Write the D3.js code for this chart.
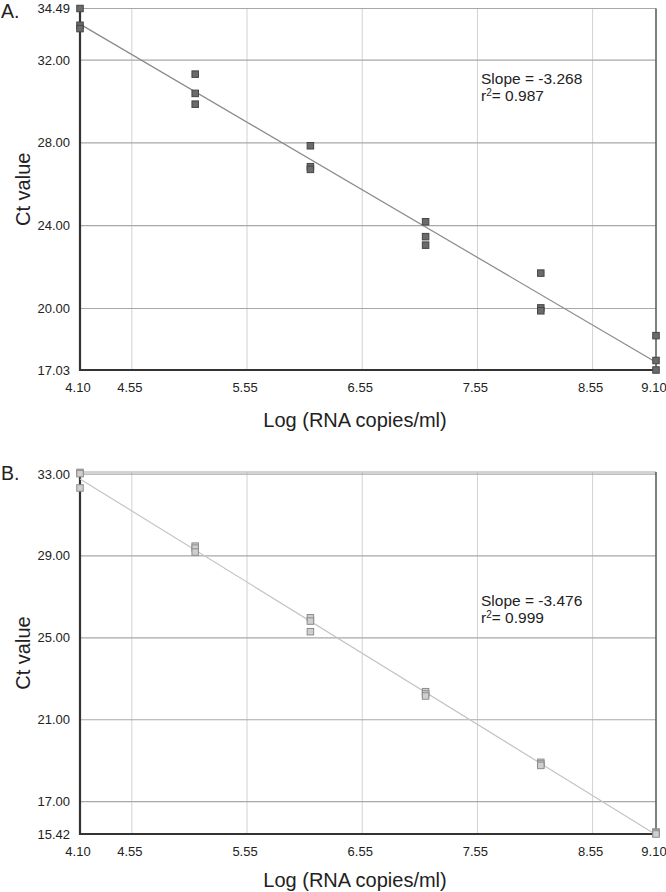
<!DOCTYPE html>
<html><head><meta charset="utf-8">
<script src="https://cdn.jsdelivr.net/npm/d3@7"></script>
<style>body{margin:0;background:#fff}svg{display:block;font-family:"Liberation Sans",Arial,sans-serif}</style>
</head><body>
<svg id="c" width="666" height="892"></svg>
<script>
// ---- data ----
const xLevels = [4.10, 5.10, 6.10, 7.10, 8.10, 9.10];
const xTicks = [4.10, 4.55, 5.55, 6.55, 7.55, 8.55, 9.10];
const ctA = [[34.49,33.68,33.52],[31.32,30.39,29.87],[27.86,26.85,26.72],[24.19,23.47,23.06],[21.71,20.03,19.89],[18.69,17.49,17.03]];
const ctB = [[33.08,33.02,32.32],[29.48,29.38,29.19],[25.98,25.82,25.30],[22.37,22.26,22.16],[18.92,18.84,18.77],[15.52,15.47,15.42]];
const yTicksA = [34.49, 32.00, 28.00, 24.00, 20.00, 17.03];
const yTicksB = [33.00, 29.00, 25.00, 21.00, 17.00, 15.42];
const domainA = [17.03, 34.49];
const domainB = [15.42, 33.10];
const slopeA = "-3.268", r2A = "0.987";
const slopeB = "-3.476", r2B = "0.999";

const svg = d3.select("#c");
const fmt = d3.format(".2f");

function panel(cfg){
  const g = svg.append("g");
  const x = d3.scaleLinear().domain([4.10, 9.10]).range([80, 656]);
  const y = d3.scaleLinear().domain(cfg.domain).range(cfg.yr);
  const [x0, x1] = x.range();
  const [yb, yt] = y.range();
  g.selectAll(".vg").data(xTicks.slice(1, -1)).join("line")
    .attr("x1", d => x(d)).attr("x2", d => x(d)).attr("y1", yt).attr("y2", yb)
    .attr("stroke", "#d2d2d2").attr("stroke-width", 1);
  g.selectAll(".hg").data(cfg.yTicks.slice(0, -1)).join("line")
    .attr("x1", x0).attr("x2", x1).attr("y1", d => y(d)).attr("y2", d => y(d))
    .attr("stroke", "#a8a8a8").attr("stroke-width", 1.2);
  g.append("line").attr("x1", x0).attr("x2", x1).attr("y1", yt).attr("y2", yt)
    .attr("stroke", "#a8a8a8").attr("stroke-width", 1.2);
  g.append("line").attr("x1", x1).attr("x2", x1).attr("y1", yt).attr("y2", yb)
    .attr("stroke", "#555").attr("stroke-width", 1.5);
  g.append("line").attr("x1", x0).attr("x2", x0).attr("y1", yt).attr("y2", yb + 1)
    .attr("stroke", "#333").attr("stroke-width", 2.2);
  g.append("line").attr("x1", x0 - 1).attr("x2", x1).attr("y1", yb).attr("y2", yb)
    .attr("stroke", "#333").attr("stroke-width", 2.2);
  g.selectAll(".yl").data(cfg.yTicks).join("text")
    .attr("x", 70).attr("y", d => y(d)).attr("dy", "0.35em")
    .attr("text-anchor", "end").attr("font-size", 13).attr("fill", "#222")
    .text(d => fmt(d));
  g.selectAll(".xl").data(xTicks).join("text")
    .attr("x", d => x(d) - 2).attr("y", yb + 22)
    .attr("text-anchor", "middle").attr("font-size", 13).attr("fill", "#222")
    .text(d => fmt(d));
  const pts = [];
  xLevels.forEach((xv, i) => cfg.ct[i].forEach(v => pts.push([xv, v])));
  const mx = d3.mean(pts, p => p[0]), my = d3.mean(pts, p => p[1]);
  const b = d3.sum(pts, p => (p[0]-mx)*(p[1]-my)) / d3.sum(pts, p => (p[0]-mx)**2);
  const a = my - b*mx;
  g.append("line").attr("x1", x(4.10)).attr("x2", x(9.10))
    .attr("y1", y(a + b*4.10)).attr("y2", y(a + b*9.10))
    .attr("stroke", cfg.lineColor).attr("stroke-width", 1.2);
  const s = 6.5;
  g.selectAll(".pt").data(pts).join("rect")
    .attr("x", p => x(p[0]) - s/2).attr("y", p => y(p[1]) - s/2)
    .attr("width", s).attr("height", s)
    .attr("fill", cfg.fill).attr("stroke", cfg.stroke).attr("stroke-width", 1);
  g.append("text").attr("x", 481).attr("y", cfg.slopeY).attr("font-size", 15.5).attr("fill", "#222")
    .text("Slope = " + cfg.slope);
  const r = g.append("text").attr("x", 481).attr("y", cfg.slopeY + 16.5).attr("font-size", 15.5).attr("fill", "#222");
  r.append("tspan").text("r");
  r.append("tspan").attr("font-size", 10).attr("dy", -5).text("2");
  r.append("tspan").attr("dy", 5).text("= " + cfg.r2);
  g.append("text").attr("x", 355).attr("y", cfg.xTitleY).attr("text-anchor", "middle")
    .attr("font-size", 20).attr("fill", "#222").text("Log (RNA copies/ml)");
  g.append("text").attr("transform", `translate(30,${(yt+yb)/2}) rotate(-90)`)
    .attr("text-anchor", "middle").attr("font-size", 20).attr("fill", "#222").text("Ct value");
  g.append("text").attr("x", 1).attr("y", cfg.letterY).attr("font-size", 19.5).attr("fill", "#222").text(cfg.letter);
}

panel({domain: domainA, yr: [370, 8.5], yTicks: yTicksA, ct: ctA, fill: "#6b6b6b", stroke: "#454545",
  lineColor: "#8a8a8a", slope: slopeA, r2: r2A, slopeY: 84, xTitleY: 427, letter: "A.", letterY: 18});
panel({domain: domainB, yr: [834, 472], yTicks: yTicksB, ct: ctB, fill: "#cfcfcf", stroke: "#8c8c8c",
  lineColor: "#c4c4c4", slope: slopeB, r2: r2B, slopeY: 606, xTitleY: 887, letter: "B.", letterY: 480});
</script>
</body></html>
